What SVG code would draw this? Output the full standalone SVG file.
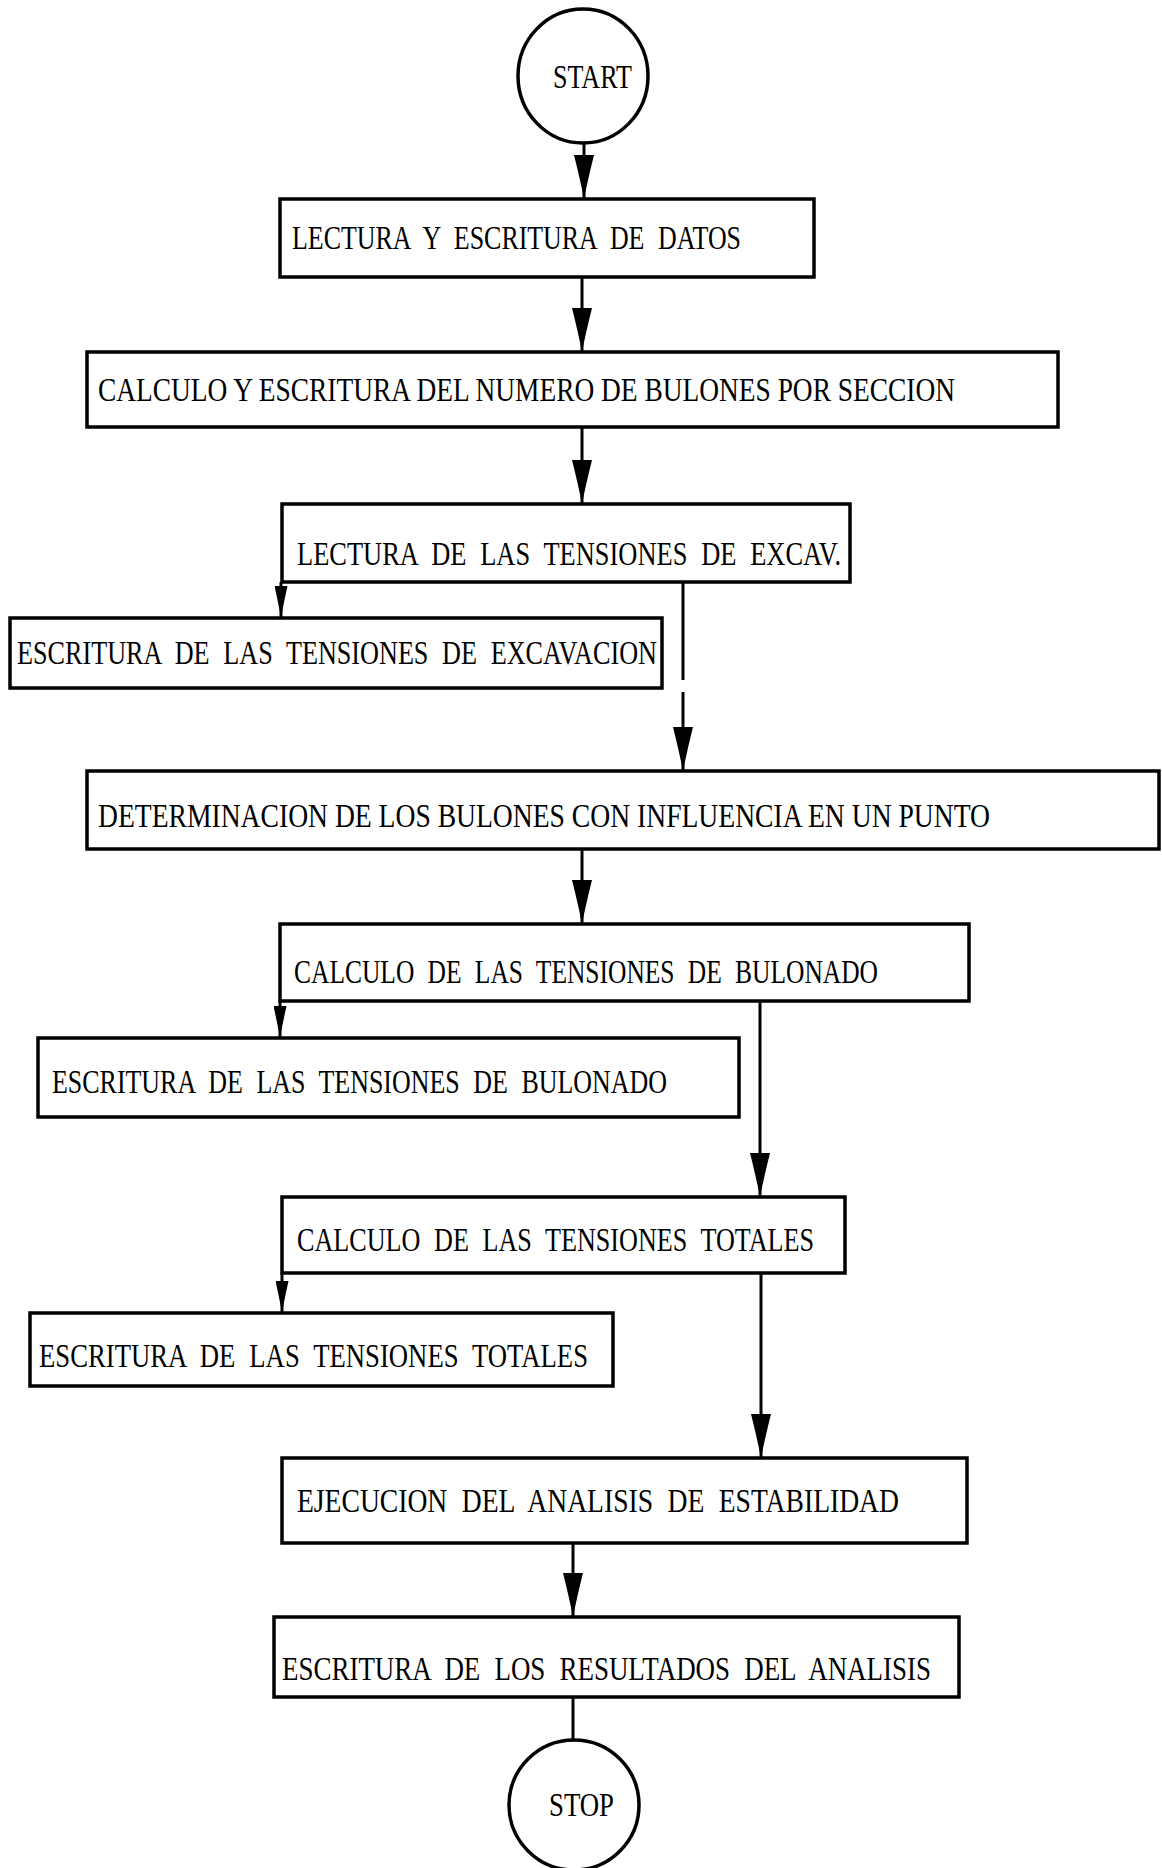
<svg xmlns="http://www.w3.org/2000/svg" width="1162" height="1868" viewBox="0 0 1162 1868">
<style>
.box{fill:#fff;stroke:#000;stroke-width:3.5}
.term{fill:#fff;stroke:#000;stroke-width:3.5}
.lbl{font-family:"Liberation Serif","Times New Roman",serif;font-size:33px;word-spacing:9px;fill:#000}
.long{word-spacing:0}
.ln{stroke:#000;stroke-width:3;fill:none}
.arr{marker-end:url(#ah)}
.arrs{marker-end:url(#ahs)}
</style>
<defs>
<marker id="ah" markerUnits="userSpaceOnUse" viewBox="0 0 44 20" markerWidth="44" markerHeight="20" refX="44" refY="10" orient="auto">
<path d="M0,0 Q24,6 44,10 Q24,14 0,20 Z" fill="#000"/>
</marker>
<marker id="ahs" markerUnits="userSpaceOnUse" viewBox="0 0 32 13" markerWidth="32" markerHeight="13" refX="32" refY="6.5" orient="auto">
<path d="M0,0 Q18,4 32,6.5 Q18,9 0,13 Z" fill="#000"/>
</marker>
</defs>
<rect width="1162" height="1868" fill="#fff"/>
<g id="connectors">
<line class="ln arr" x1="584" y1="143" x2="584" y2="199"/>
<line class="ln arr" x1="582" y1="277" x2="582" y2="352"/>
<line class="ln arr" x1="582" y1="427" x2="582" y2="504"/>
<line class="ln arrs" x1="281" y1="582" x2="281" y2="618"/>
<line class="ln" x1="683" y1="582" x2="683" y2="680"/>
<line class="ln arr" x1="683" y1="692" x2="683" y2="771"/>
<line class="ln arr" x1="582" y1="849" x2="582" y2="924"/>
<line class="ln arrs" x1="280" y1="1001" x2="280" y2="1038"/>
<line class="ln arr" x1="760" y1="1001" x2="760" y2="1197"/>
<line class="ln arrs" x1="282" y1="1273" x2="282" y2="1313"/>
<line class="ln arr" x1="761" y1="1273" x2="761" y2="1458"/>
<line class="ln arr" x1="573" y1="1543" x2="573" y2="1617"/>
<line class="ln" x1="573" y1="1697" x2="573" y2="1740"/>
</g>
<g id="start"><ellipse class="term" cx="583" cy="76" rx="65" ry="67"/><text class="lbl" x="553" y="88" textLength="79" lengthAdjust="spacingAndGlyphs">START</text></g>
<g id="n1"><rect class="box" x="280" y="199" width="534" height="78"/><text class="lbl" x="292" y="249" textLength="449" lengthAdjust="spacingAndGlyphs">LECTURA Y ESCRITURA DE DATOS</text></g>
<g id="n2"><rect class="box" x="87" y="352" width="971" height="75"/><text class="lbl long" x="98" y="401" textLength="857" lengthAdjust="spacingAndGlyphs">CALCULO Y ESCRITURA DEL NUMERO DE BULONES POR SECCION</text></g>
<g id="n3"><rect class="box" x="282" y="504" width="568" height="78"/><text class="lbl" x="297" y="565" textLength="544" lengthAdjust="spacingAndGlyphs">LECTURA DE LAS TENSIONES DE EXCAV.</text></g>
<g id="n4"><rect class="box" x="10" y="618" width="652" height="70"/><text class="lbl" x="17" y="664" textLength="640" lengthAdjust="spacingAndGlyphs">ESCRITURA DE LAS TENSIONES DE EXCAVACION</text></g>
<g id="n5"><rect class="box" x="87" y="771" width="1072" height="78"/><text class="lbl long" x="98" y="827" textLength="892" lengthAdjust="spacingAndGlyphs">DETERMINACION DE LOS BULONES CON INFLUENCIA EN UN PUNTO</text></g>
<g id="n6"><rect class="box" x="280" y="924" width="689" height="77"/><text class="lbl" x="294" y="983" textLength="584" lengthAdjust="spacingAndGlyphs">CALCULO DE LAS TENSIONES DE BULONADO</text></g>
<g id="n7"><rect class="box" x="38" y="1038" width="701" height="79"/><text class="lbl" x="52" y="1093" textLength="615" lengthAdjust="spacingAndGlyphs">ESCRITURA DE LAS TENSIONES DE BULONADO</text></g>
<g id="n8"><rect class="box" x="282" y="1197" width="563" height="76"/><text class="lbl" x="297" y="1251" textLength="517" lengthAdjust="spacingAndGlyphs">CALCULO DE LAS TENSIONES TOTALES</text></g>
<g id="n9"><rect class="box" x="30" y="1313" width="583" height="73"/><text class="lbl" x="39" y="1367" textLength="549" lengthAdjust="spacingAndGlyphs">ESCRITURA DE LAS TENSIONES TOTALES</text></g>
<g id="n10"><rect class="box" x="282" y="1458" width="685" height="85"/><text class="lbl" x="297" y="1512" textLength="602" lengthAdjust="spacingAndGlyphs">EJECUCION DEL ANALISIS DE ESTABILIDAD</text></g>
<g id="n11"><rect class="box" x="274" y="1617" width="685" height="80"/><text class="lbl" x="282" y="1680" textLength="649" lengthAdjust="spacingAndGlyphs">ESCRITURA DE LOS RESULTADOS DEL ANALISIS</text></g>
<g id="stop"><ellipse class="term" cx="574" cy="1805" rx="65" ry="65"/><text class="lbl" x="549" y="1816" textLength="65" lengthAdjust="spacingAndGlyphs">STOP</text></g>
</svg>
